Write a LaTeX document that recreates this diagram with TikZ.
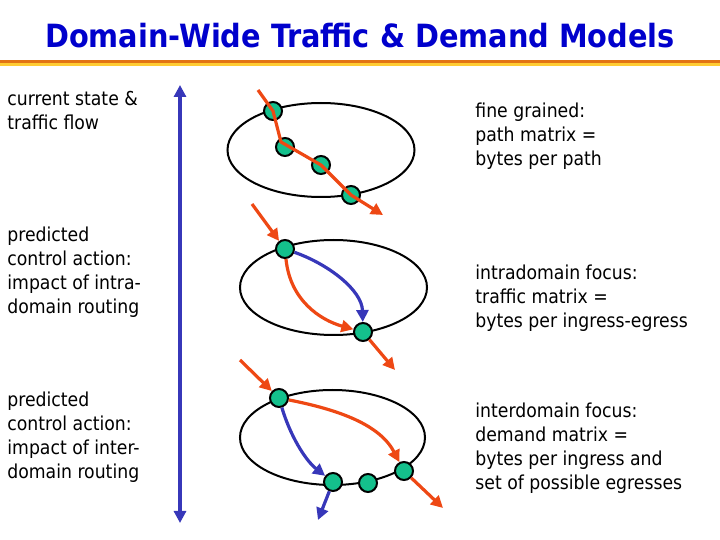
\documentclass[tikz,border=0pt]{standalone}
\usepackage{fontspec}
\setmainfont{DejaVu Sans Condensed}
\usepackage{tikz}
\usetikzlibrary{arrows.meta,positioning,calc}
\definecolor{titleblue}{RGB}{0, 0, 204}
\definecolor{flowred}{RGB}{238, 72, 20}
\definecolor{routeblue}{RGB}{55, 55, 185}
\definecolor{routergreen}{RGB}{20, 192, 140}
\definecolor{ruleorange}{RGB}{226, 116, 20}
\definecolor{ruleyellow}{RGB}{255, 204, 51}

\tikzset{
    router/.style={circle,draw=black,line width=1pt,fill=routergreen,minimum size=9pt,inner sep=0pt},
    redflow/.style={draw=flowred,line width=1.6pt,line join=round,-{Triangle[length=6pt,width=6pt]}},
    blueflow/.style={draw=routeblue,line width=1.6pt,-{Triangle[length=6pt,width=6pt]}},
    domainring/.style={draw=black,line width=1pt},
    lefttext/.style={anchor=north west,align=left,inner sep=0pt,font=\fontsize{9.6}{12}\selectfont},
    righttext/.style={anchor=north west,align=left,inner sep=0pt,font=\fontsize{9.6}{12}\selectfont}
}

\begin{document}
\begin{tikzpicture}[x=0.5pt,y=-0.5pt]
    \useasboundingbox (0,0) rectangle (720,540);

    % title and rule
    \node[titleblue,font=\fontsize{16}{18}\selectfont\bfseries] (title) at (360,36) {Domain-Wide Traffic \& Demand Models};
    \fill[ruleorange] (0,60) rectangle (720,63);
    \fill[ruleyellow] (0,63) rectangle (720,66);

    % time axis
    \coordinate (axtop) at (180,85);
    \coordinate (axbot) at (180,523);
    \draw[routeblue,line width=1.6pt,{Triangle[length=6pt,width=6pt]}-{Triangle[length=6pt,width=6pt]}] (axtop) -- (axbot);

    % left labels
    \node[lefttext] (cur) at (7,91) {current state \&\\traffic flow};
    \node[lefttext] (intra) at (7,227) {predicted\\control action:\\impact of intra-\\domain routing};
    \node[lefttext] (inter) at (7,392) {predicted\\control action:\\impact of inter-\\domain routing};

    % right labels
    \node[righttext] (fine) at (475,103) {fine grained:\\path matrix =\\bytes per path};
    \node[righttext] (tm) at (475,265) {intradomain focus:\\traffic matrix =\\bytes per ingress-egress};
    \node[righttext] (dm) at (475,403) {interdomain focus:\\demand matrix =\\bytes per ingress and\\set of possible egresses};

    % path matrix
    \draw[domainring] (321,150) ellipse [x radius=93.5, y radius=47];
    \node[router] (a1) at (273,111) {};
    \node[router] (a2) at (285,147) {};
    \node[router] (a3) at (321,165) {};
    \node[router] (a4) at (351,195) {};
    \coordinate (s1) at (258,90);
    \coordinate (t1) at (383,215);
    \draw[redflow] (s1) -- (a1.center) -- (281,142) -- (a3.center) -- (a4.center) -- (t1);

    % traffic matrix
    \draw[domainring] (333.5,287.5) ellipse [x radius=93.5, y radius=47.5];
    \node[router] (b1) at (285,249) {};
    \node[router] (b2) at (363,332) {};
    \coordinate (s2) at (252,204);
    \coordinate (t2) at (395,370);
    \draw[redflow] (s2) -- (b1);
    \draw[redflow] (b1) .. controls (290,300) and (320,320) .. (b2);
    \draw[blueflow] (b1) .. controls (328,264) and (362,290) .. (b2);
    \draw[redflow] (b2) -- (t2);

    % demand matrix
    \draw[domainring] (332.5,437.5) ellipse [x radius=92.5, y radius=47.5];
    \node[router] (c1) at (279,398) {};
    \node[router] (c2) at (333,482) {};
    \node[router] (c3) at (368,483) {};
    \node[router] (c4) at (404,471) {};
    \coordinate (s3) at (240,360);
    \coordinate (t3) at (443,508);
    \coordinate (u3) at (318,520);
    \draw[redflow] (s3) -- (c1);
    \draw[redflow] (c1) .. controls (340,410) and (380,425) .. (c4);
    \draw[blueflow] (c1) .. controls (290,435) and (305,460) .. (c2);
    \draw[blueflow] (c2) -- (u3);
    \draw[redflow] (c4) -- (t3);
\end{tikzpicture}
\end{document}
